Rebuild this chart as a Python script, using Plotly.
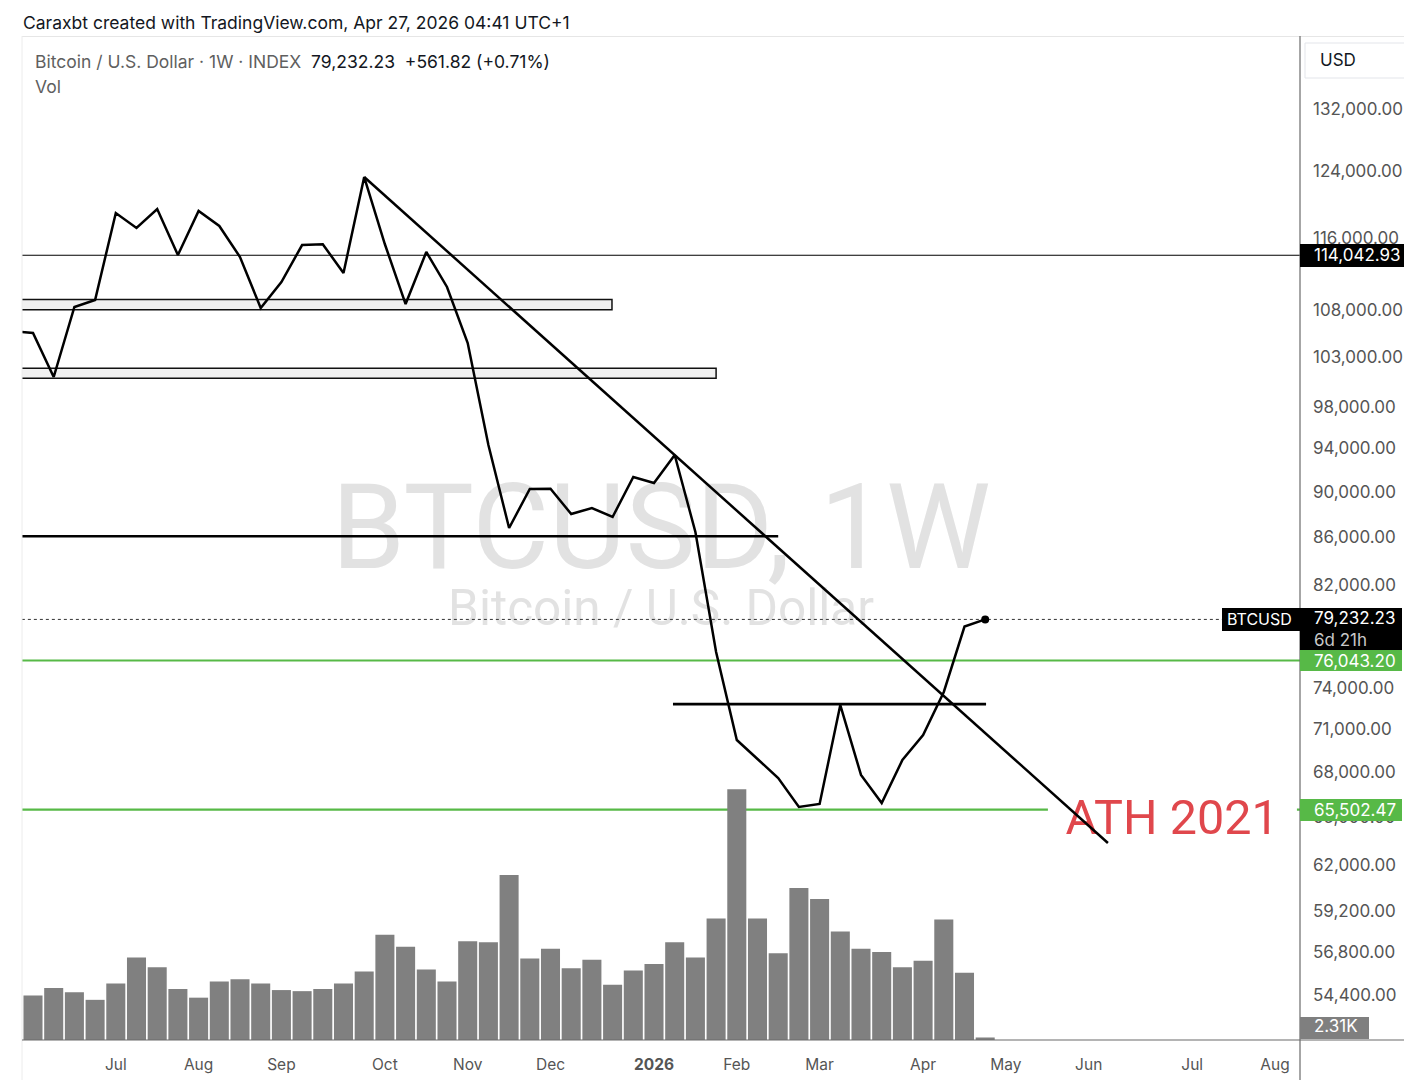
import math
import pandas as pd
import plotly.graph_objects as go

FONT = "Inter, Roboto, 'Noto Sans', sans-serif"
WM_FONT = "Roboto, Inter, sans-serif"

# ---------------- data ----------------
price_weeks = pd.date_range("2025-06-02", periods=48, freq="7D")
volume_weeks = pd.date_range("2025-06-09", periods=47, freq="7D")

close_usd = [105700,
             105510, 100970, 108290, 109050, 118960, 117190, 119440, 114070, 119200, 117430,
             113840, 108180, 111030, 115210, 115300, 112030, 123320, 115300, 108610, 114410,
             110480, 104460, 94330, 86820, 90270, 90300, 88040, 88570, 87780, 91360,
             90810, 93390, 86470, 76690, 70230, 68910, 67610, 65680, 65880, 72730,
             67820, 65940, 68840, 70580, 73690, 78670.41, 79232.23]

volume_k = [41, 48, 44, 37, 52, 76, 67, 47, 39, 54,
            56, 52, 46, 45, 47, 52, 63, 97, 86, 65,
            54, 91, 90, 152, 75, 84, 66, 74, 51, 64,
            70, 90, 76, 112, 231, 112, 80, 140, 130, 100,
            84, 81, 67, 73, 111, 62, 2.31]

last_price = 79232.23
resistance_level = 114042.93
zone_upper = [108000, 109100]
zone_lower = [100850, 101850]
support_level = 86100
neckline_level = 72800
green_level_1 = 76043.20
green_level_2 = 65502.47

trend_dates = ["2025-09-29", "2026-06-07 12:00"]
trend_prices = [123320, 63360]

price_ticks = [132000, 124000, 116000, 108000, 103000, 98000, 94000, 90000, 86000, 82000,
               74000, 71000, 68000, 65000, 62000, 59200, 56800, 54400]
month_ticks = ["2025-07-07", "2025-08-04", "2025-09-01", "2025-10-06", "2025-11-03", "2025-12-01",
               "2026-01-05", "2026-02-02", "2026-03-02", "2026-04-06", "2026-05-04", "2026-06-01",
               "2026-07-06", "2026-08-03"]
month_labels = ["Jul", "Aug", "Sep", "Oct", "Nov", "Dec", "<b>2026</b>", "Feb", "Mar", "Apr",
                "May", "Jun", "Jul", "Aug"]

# ---------------- layout helpers ----------------
# the page body has an 8px margin: the figure is shrunk by that offset
OFF = 8
X_LEFT, X_RIGHT = "2025-06-05 06:43", "2026-08-11 10:54"
X_FAR_LEFT, X_FAR_RIGHT = "2025-05-20", "2026-09-01"
W, H = 1412 - OFF, 1080 - OFF
L, T = 22 - OFF, 37 - OFF
R = W - (1300 - OFF)
B = H - (1040 - OFF)
PW, PH = 1278, 1003


def px(x):
    return (x - 22) / PW


def py(y):
    return (1040 - y) / PH


GREEN = "#57b947"
BLACK = "#000000"
AXIS_FS = 17

fig = go.Figure()

# watermark
fig.add_trace(go.Scatter(x=["2026-01-07 09:30"], y=[85900], mode="text", text=["BTCUSD, 1W"],
                         textfont=dict(size=118, color="#e2e2e2", family=WM_FONT), hoverinfo="skip"))
fig.add_trace(go.Scatter(x=["2026-01-07 09:30"], y=[79740], mode="text", text=["Bitcoin / U.S. Dollar"],
                         textfont=dict(size=49.5, color="#e2e2e2", family=WM_FONT), hoverinfo="skip"))

# zones
for lo, hi, end in [(zone_upper[0], zone_upper[1], "2025-12-21 19:00"),
                    (zone_lower[0], zone_lower[1], "2026-01-26 00:00")]:
    fig.add_trace(go.Scatter(x=[X_FAR_LEFT, end, end, X_FAR_LEFT, X_FAR_LEFT], y=[lo, lo, hi, hi, lo],
                             mode="lines", fill="toself", fillcolor="#f1f1f1",
                             line=dict(color="#111111", width=1.5), hoverinfo="skip"))

# horizontal levels
fig.add_trace(go.Scatter(x=[X_FAR_LEFT, X_FAR_RIGHT], y=[resistance_level] * 2, mode="lines",
                         line=dict(color=BLACK, width=1.2), hoverinfo="skip"))
fig.add_trace(go.Scatter(x=[X_FAR_LEFT, "2026-02-16"], y=[support_level] * 2, mode="lines",
                         line=dict(color=BLACK, width=2.6), hoverinfo="skip"))
fig.add_trace(go.Scatter(x=[X_FAR_LEFT, X_FAR_RIGHT], y=[green_level_1] * 2, mode="lines",
                         line=dict(color=GREEN, width=2.2), hoverinfo="skip"))
fig.add_trace(go.Scatter(x=[X_FAR_LEFT, "2026-05-18 05:00", None, "2026-08-10 10:00", X_FAR_RIGHT],
                         y=[green_level_2, green_level_2, None, green_level_2, green_level_2], mode="lines",
                         line=dict(color=GREEN, width=2.2), hoverinfo="skip"))
fig.add_trace(go.Scatter(x=[X_FAR_LEFT, X_FAR_RIGHT], y=[last_price] * 2, mode="lines",
                         line=dict(color="#333333", width=1, dash="dot"), hoverinfo="skip"))

# ATH label
fig.add_trace(go.Scatter(x=["2026-06-29 05:00"], y=[64700], mode="text", text=["ATH 2021"],
                         textfont=dict(size=48.5, color="#e0474c", family=WM_FONT), hoverinfo="skip"))

# price line
fig.add_trace(go.Scatter(x=price_weeks, y=close_usd, mode="lines", line=dict(color=BLACK, width=2.5),
                         hoverinfo="skip"))
# trend line
fig.add_trace(go.Scatter(x=trend_dates, y=trend_prices, mode="lines", line=dict(color=BLACK, width=2.5),
                         hoverinfo="skip"))
# neckline
fig.add_trace(go.Scatter(x=["2026-01-11 10:00", "2026-04-27 07:00"], y=[neckline_level] * 2, mode="lines",
                         line=dict(color=BLACK, width=2.6), hoverinfo="skip"))
# last point
fig.add_trace(go.Scatter(x=[price_weeks[-1]], y=[close_usd[-1]], mode="markers",
                         marker=dict(color=BLACK, size=8), hoverinfo="skip"))

# volume
fig.add_trace(go.Bar(x=volume_weeks, y=volume_k, yaxis="y2",
                     marker=dict(color="#808080", line=dict(width=0)), hoverinfo="skip"))

# ---------------- annotations ----------------
ann = []


def box(yval, yref, bg, w, h, xanchor="left", yanchor="middle", yshift=0):
    ann.append(dict(x=1, xref="paper", y=yval, yref=yref, xanchor=xanchor, yanchor=yanchor,
                    yshift=yshift, text="\u00a0", font=dict(size=1), showarrow=False,
                    bgcolor=bg, width=w, height=h, borderpad=0, borderwidth=0))


def label(text, yval, yref, color="white", xanchor="left", xshift=12, yanchor="middle", yshift=0,
          size=AXIS_FS, align="left"):
    ann.append(dict(x=1, xref="paper", y=yval, yref=yref, xanchor=xanchor, yanchor=yanchor,
                    xshift=xshift, yshift=yshift, text=text, showarrow=False, align=align,
                    font=dict(size=size, color=color, family=FONT)))


lg = math.log10
box(lg(resistance_level), "y", "#000000", 111, 23)
label(f"{resistance_level:,.2f}", lg(resistance_level), "y")

box(lg(last_price), "y", "#000000", 78, 23, xanchor="right", yanchor="top", yshift=11.5)
label("BTCUSD", lg(last_price), "y", xanchor="right", xshift=-6, size=16)
box(lg(last_price), "y", "#000000", 102, 42, yanchor="top", yshift=11.5)
label(f"{last_price:,.2f}<br><span style='color:#c8c8c8'>6d 21h</span>", lg(last_price), "y",
      yanchor="top", yshift=13)

box(lg(green_level_1), "y", GREEN, 102, 21)
label(f"{green_level_1:,.2f}", lg(green_level_1), "y")
box(lg(green_level_2), "y", GREEN, 102, 22)
label(f"{green_level_2:,.2f}", lg(green_level_2), "y")

box(0, "paper", "#7f7f7f", 69, 22, yanchor="bottom", yshift=1)
label(f"{volume_k[-1]:.2f}K", 0, "paper", yanchor="bottom", yshift=2)

# header texts
ann.append(dict(x=px(21), xref="paper", y=py(22), yref="paper", xanchor="left", yanchor="middle",
                text="Caraxbt created with TradingView.com, Apr 27, 2026 04:41 UTC+1", showarrow=False,
                font=dict(size=17.5, color="#131722", family=FONT)))
ann.append(dict(x=px(33), xref="paper", y=py(62), yref="paper", xanchor="left", yanchor="middle",
                text="<span style='color:#5f5f5f'>Bitcoin / U.S. Dollar · 1W · INDEX</span>\u00a0\u00a0"
                     "79,232.23\u00a0\u00a0+561.82 (+0.71%)", showarrow=False,
                font=dict(size=17.5, color="#131722", family=FONT)))
ann.append(dict(x=px(33), xref="paper", y=py(87), yref="paper", xanchor="left", yanchor="middle",
                text="Vol", showarrow=False, font=dict(size=17.5, color="#5f5f5f", family=FONT)))
ann.append(dict(x=px(1318), xref="paper", y=py(60), yref="paper", xanchor="left", yanchor="middle",
                text="USD", showarrow=False, font=dict(size=17, color="#131722", family=FONT)))

shapes = [
    dict(type="line", xref="paper", yref="paper", x0=px(22), x1=px(1412), y0=py(36.5), y1=py(36.5),
         line=dict(color="#e6e6e6", width=1)),
    dict(type="line", xref="paper", yref="paper", x0=px(22), x1=px(22), y0=py(36), y1=py(1080),
         line=dict(color="#ececec", width=1)),
    dict(type="line", xref="paper", yref="paper", x0=1, x1=1, y0=py(36), y1=py(1080),
         line=dict(color="#6b6b6b", width=1.2)),
    dict(type="line", xref="paper", yref="paper", x0=0, x1=px(1412), y0=0, y1=0,
         line=dict(color="#6b6b6b", width=1.2)),
    dict(type="rect", xref="paper", yref="paper", x0=px(1305), x1=px(1410), y0=py(43), y1=py(78),
         line=dict(color="#e3e5ea", width=1), fillcolor="white", layer="below"),
]

fig.update_layout(
    width=W, height=H,
    margin=dict(l=L, r=R, t=T, b=B, pad=0, autoexpand=False),
    paper_bgcolor="white", plot_bgcolor="white",
    showlegend=False, bargap=0.08,
    font=dict(family=FONT, color="#131722"),
    xaxis=dict(type="date", range=[X_LEFT, X_RIGHT], showgrid=False, zeroline=False, showline=False,
               tickmode="array", tickvals=month_ticks, ticktext=month_labels, automargin=False,
               tickfont=dict(size=15.5, color="#555555", family=FONT), ticks="", ticklabelstandoff=13,
               fixedrange=True),
    yaxis=dict(type="log", range=[4.716248, 5.151843], side="right", showgrid=False, zeroline=False,
               showline=False, tickmode="array", tickvals=price_ticks, automargin=False,
               ticktext=[f"{v:,.2f}" for v in price_ticks],
               tickfont=dict(size=AXIS_FS, color="#555555", family=FONT), ticks="", ticklabelstandoff=12,
               fixedrange=True),
    yaxis2=dict(overlaying="y", range=[0, 924], visible=False, fixedrange=True),
    annotations=ann,
    shapes=shapes,
)

fig.write_html("out.html")
